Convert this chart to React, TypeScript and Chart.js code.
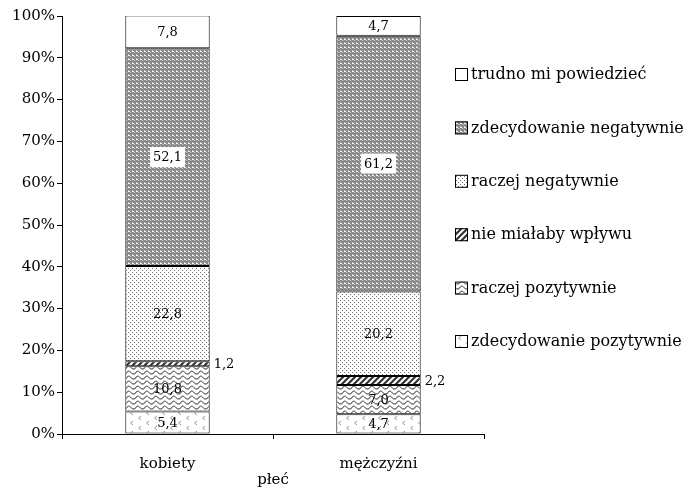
import React, { useEffect, useRef } from 'react';
import { Chart, registerables } from 'chart.js';
Chart.register(...registerables);

const FONT = '"DejaVu Serif", serif';

const categories = ['kobiety', 'mężczyźni'];
const seriesNames = [
  'zdecydowanie pozytywnie',
  'raczej pozytywnie',
  'nie miałaby wpływu',
  'raczej negatywnie',
  'zdecydowanie negatywnie',
  'trudno mi powiedzieć',
];
const zdecydowaniePozytywnie = [5.4, 4.7];
const raczejPozytywnie = [10.8, 7.0];
const nieMialabyWplywu = [1.2, 2.2];
const raczejNegatywnie = [22.8, 20.2];
const zdecydowanieNegatywnie = [52.1, 61.2];
const trudnoPowiedziec = [7.8, 4.7];
const xTitle = 'płeć';

function makePattern(w: number, h: number, draw: (g: CanvasRenderingContext2D) => void) {
  const c = document.createElement('canvas');
  c.width = w;
  c.height = h;
  const g = c.getContext('2d')!;
  g.fillStyle = '#fff';
  g.fillRect(0, 0, w, h);
  draw(g);
  return g.createPattern(c, 'repeat')!;
}

function buildPatterns() {
  const zPoz = makePattern(16, 10, (g) => {
    g.strokeStyle = '#9a9a9a';
    g.lineWidth = 1;
    g.beginPath();
    g.moveTo(5, 1); g.lineTo(2.5, 3); g.lineTo(5, 5);
    g.moveTo(13, 6); g.lineTo(10.5, 8); g.lineTo(13, 10);
    g.stroke();
  });
  const rPoz = makePattern(9, 5, (g) => {
    g.strokeStyle = '#333';
    g.lineWidth = 1;
    g.beginPath();
    g.moveTo(0, 3.8);
    g.quadraticCurveTo(2.25, -0.6, 4.5, 2.2);
    g.quadraticCurveTo(6.75, 5.0, 9, 3.8);
    g.stroke();
  });
  const nie = makePattern(6, 6, (g) => {
    g.strokeStyle = '#333';
    g.lineWidth = 2.2;
    g.beginPath();
    g.moveTo(-1, 7); g.lineTo(7, -1);
    g.moveTo(-4, 4); g.lineTo(4, -4);
    g.moveTo(2, 10); g.lineTo(10, 2);
    g.stroke();
  });
  const rNeg = makePattern(4, 4, (g) => {
    g.fillStyle = '#6a6a6a';
    g.fillRect(0, 0, 1, 1);
    g.fillRect(2, 2, 1, 1);
  });
  const zNeg = makePattern(4, 4, (g) => {
    g.fillStyle = '#888';
    g.beginPath();
    g.arc(1, 1, 1.2, 0, Math.PI * 2);
    g.arc(3, 3, 1.2, 0, Math.PI * 2);
    g.fill();
    g.beginPath();
    g.arc(3, -1, 1.2, 0, Math.PI * 2);
    g.arc(-1, 3, 1.2, 0, Math.PI * 2);
    g.arc(5, 3, 1.2, 0, Math.PI * 2);
    g.arc(3, 5, 1.2, 0, Math.PI * 2);
    g.fill();
  });
  return [zPoz, rPoz, nie, rNeg, zNeg, '#ffffff'];
}

const fmt = (v: number) => v.toFixed(1).replace('.', ',');

const labelPlugin = {
  id: 'segLabels',
  afterDatasetsDraw(chart: any) {
    const ctx = chart.ctx as CanvasRenderingContext2D;
    ctx.save();
    ctx.font = `13px ${FONT}`;
    ctx.textBaseline = 'middle';
    chart.data.datasets.forEach((ds: any, i: number) => {
      const meta = chart.getDatasetMeta(i);
      meta.data.forEach((el: any, j: number) => {
        const v = ds.data[j] as number;
        const txt = fmt(v);
        const p = el.getProps(['x', 'y', 'base', 'width'], true);
        const cy = (p.y + p.base) / 2;
        if (i === 2) {
          ctx.textAlign = 'left';
          ctx.fillStyle = '#000';
          ctx.fillText(txt, p.x + p.width / 2 + 4, cy + 1);
        } else {
          ctx.textAlign = 'center';
          if (i === 4) {
            const w = ctx.measureText(txt).width;
            ctx.fillStyle = '#fff';
            ctx.fillRect(p.x - w / 2 - 3, cy - 10, w + 6, 20);
          }
          ctx.fillStyle = '#000';
          ctx.fillText(txt, p.x, cy + 1);
        }
      });
    });
    ctx.restore();
  },
};

const legendPlugin = {
  id: 'customLegend',
  afterDraw(chart: any) {
    const ctx = chart.ctx as CanvasRenderingContext2D;
    const ds = chart.data.datasets;
    ctx.save();
    ctx.font = `16px ${FONT}`;
    ctx.textBaseline = 'middle';
    ctx.textAlign = 'left';
    const x0 = 455;
    const y0 = 74;
    const step = 53.4;
    for (let k = 0; k < ds.length; k++) {
      const d = ds[ds.length - 1 - k];
      const cy = y0 + k * step;
      ctx.fillStyle = d.backgroundColor;
      ctx.fillRect(x0, cy - 6, 13, 13);
      ctx.strokeStyle = '#000';
      ctx.lineWidth = 1;
      ctx.strokeRect(x0 + 0.5, cy - 5.5, 12, 12);
      ctx.fillStyle = '#000';
      ctx.fillText(d.label, x0 + 16, cy + 1);
    }
    ctx.restore();
  },
};

export default function App() {
  const ref = useRef<HTMLCanvasElement>(null);
  useEffect(() => {
    document.body.style.margin = '0';
    const pats = buildPatterns();
    const values = [
      zdecydowaniePozytywnie,
      raczejPozytywnie,
      nieMialabyWplywu,
      raczejNegatywnie,
      zdecydowanieNegatywnie,
      trudnoPowiedziec,
    ];
    const chart = new Chart(ref.current!, {
      type: 'bar',
      data: {
        labels: categories,
        datasets: values.map((v, i) => ({
          label: seriesNames[i],
          data: v,
          backgroundColor: pats[i] as any,
          borderColor: '#000',
          borderWidth: 1,
          borderSkipped: false,
          categoryPercentage: 1,
          barPercentage: 0.4,
        })),
      },
      options: {
        responsive: false,
        animation: false,
        layout: { padding: { left: 0, right: 200, top: 16, bottom: 0 } },
        plugins: { legend: { display: false }, tooltip: { enabled: false } },
        scales: {
          x: {
            stacked: true,
            offset: true,
            grid: { offset: true, drawOnChartArea: false, color: '#000', tickLength: 5, lineWidth: 1 },
            border: { display: true, color: '#000', width: 1 },
            ticks: { color: '#000', font: { family: FONT, size: 15 }, padding: 16 },
            title: { display: true, text: xTitle, color: '#000', font: { family: FONT, size: 15 }, padding: 0 },
            afterFit: (s: any) => { s.height = 55; },
          },
          y: {
            stacked: true,
            min: 0,
            max: 100,
            grid: { drawOnChartArea: false, color: '#000', tickLength: 5, lineWidth: 1 },
            border: { display: true, color: '#000', width: 1 },
            ticks: {
              stepSize: 10,
              color: '#000',
              font: { family: FONT, size: 15 },
              padding: 2,
              callback: (v: any) => `${v}%`,
            },
            afterFit: (s: any) => { s.width = 62; },
          },
        },
      },
      plugins: [labelPlugin, legendPlugin],
    });
    return () => chart.destroy();
  }, []);
  return (
    <div style={{ width: 684, height: 489 }}>
      <canvas ref={ref} width={684} height={489} style={{ display: 'block' }} />
    </div>
  );
}
